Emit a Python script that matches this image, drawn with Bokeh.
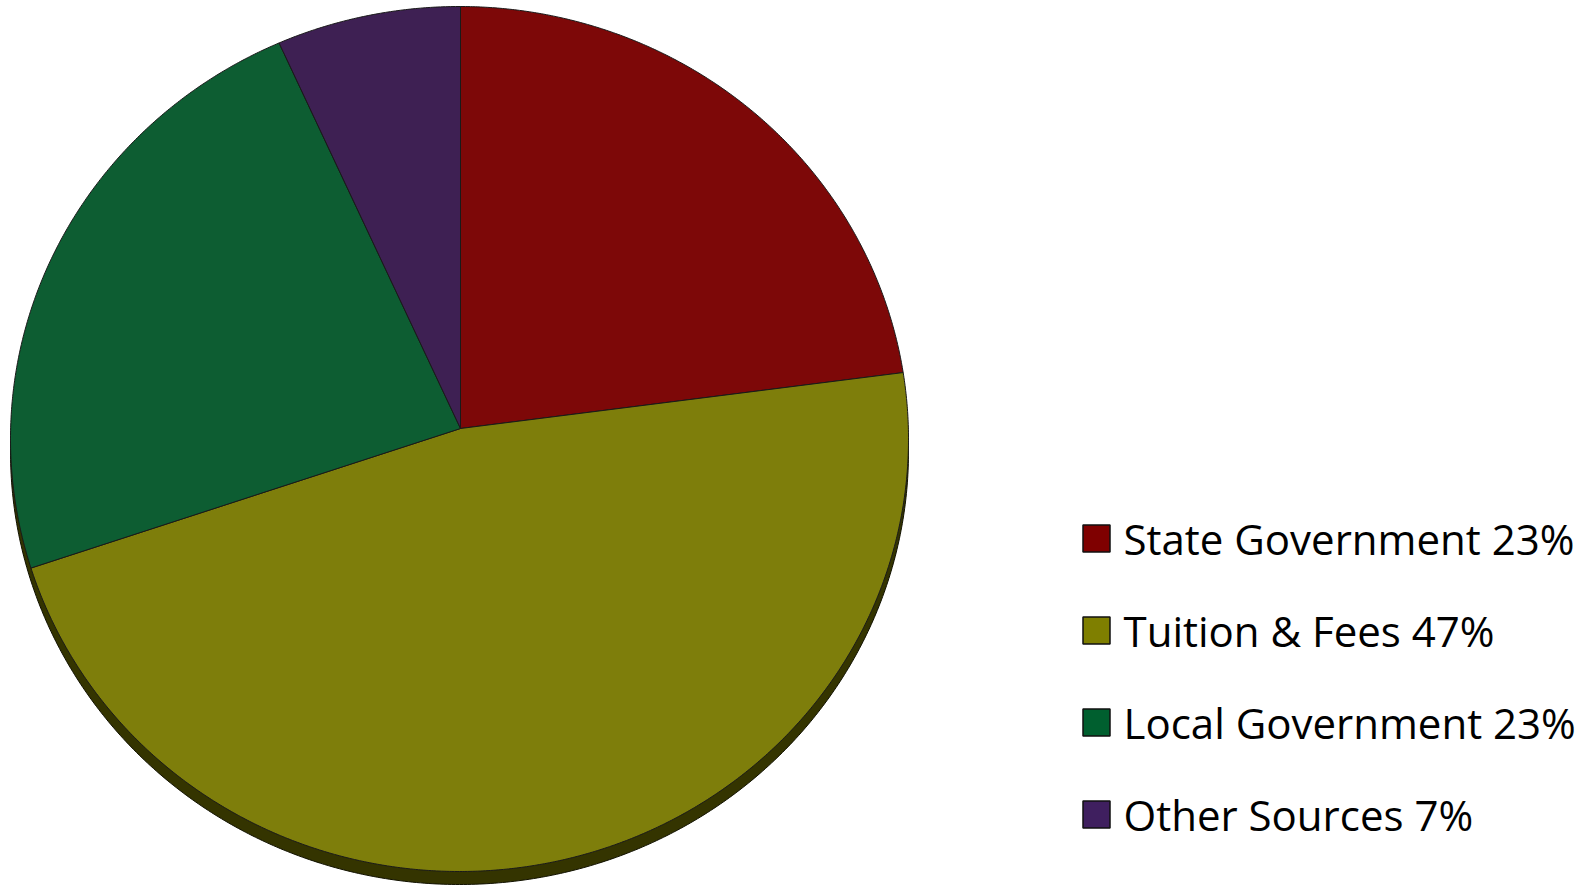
import numpy as np
from bokeh.plotting import figure
from bokeh.models import ColumnDataSource, Range1d
from bokeh.core.properties import value
from bokeh.embed import file_html
from bokeh.resources import INLINE

# ---- data ----
categories = ["State Government", "Tuition & Fees", "Local Government", "Other Sources"]
shares = [23, 47, 23, 7]
slice_colors = ["#7d0808", "#7e7e0b", "#0d5d32", "#3e2053"]
legend_colors = ["#7f0000", "#7f7f00", "#005f2f", "#3f1f5f"]
labels = [f"{c} {s}%" for c, s in zip(categories, shares)]

# ---- layout (page pixel coordinates) ----
W, H = 1580, 886
ECX, ECY, RX, RY = 459.0, 438.5, 449.0, 432.5   # ellipse of the top face
VX, VY = 460.0, 428.0                           # apex where slices meet
DEPTH = 13.0

p = figure(width=W, height=H, x_range=Range1d(0, W), y_range=Range1d(H, 0),
           output_backend="svg", toolbar_location=None, min_border=0,
           x_axis_location=None, y_axis_location=None)
p.grid.visible = False
p.outline_line_color = None
p.background_fill_color = "white"


def rim_point(t_deg, dy=0.0):
    t = np.radians(t_deg)
    c, sn = np.cos(t), np.sin(t)
    a, b = VX - ECX, VY - ECY
    A = (c / RX) ** 2 + (sn / RY) ** 2
    B = 2 * (a * c / RX ** 2 - b * sn / RY ** 2)
    C = (a / RX) ** 2 + (b / RY) ** 2 - 1
    s = (-B + np.sqrt(B * B - 4 * A * C)) / (2 * A)
    return VX + s * c, VY - s * sn + dy


# side (depth) of the pie
tt = np.linspace(0, 360, 721)
side_x = list(ECX + RX * np.cos(np.radians(tt)))
side_y = list(ECY + DEPTH - RY * np.sin(np.radians(tt)))
p.patch(side_x, side_y, fill_color="#343400", line_color="#111100", line_width=1)

# slices
xs, ys = [], []
cum = 0.0
total = float(sum(shares))
for s in shares:
    a0 = 90 - 360 * cum / total
    a1 = 90 - 360 * (cum + s) / total
    n = max(int(abs(a1 - a0) * 3), 4)
    px, py = [VX], [VY]
    for t in np.linspace(a0, a1, n):
        x, y = rim_point(t)
        px.append(x)
        py.append(y)
    xs.append(px)
    ys.append(py)
    cum += s

src = ColumnDataSource(dict(xs=xs, ys=ys, color=slice_colors))
p.patches("xs", "ys", source=src, fill_color="color", line_color="#1a1a1a", line_width=1)

# legend
rows = np.arange(len(labels))
leg = ColumnDataSource(dict(
    x=[1096] * len(labels),
    y=list(538 + 92 * rows),
    tx=[1123] * len(labels),
    color=legend_colors,
    label=labels,
))
p.rect(x="x", y="y", width=27, height=27, source=leg, fill_color="color",
       line_color="#111111", line_width=1.5)
p.text(x="tx", y="y", text="label", source=leg, text_font=value("Open Sans"),
       text_font_size="42px", text_baseline="middle", text_align="left",
       text_color="black")

open("out.html", "w").write(file_html(p, INLINE))
